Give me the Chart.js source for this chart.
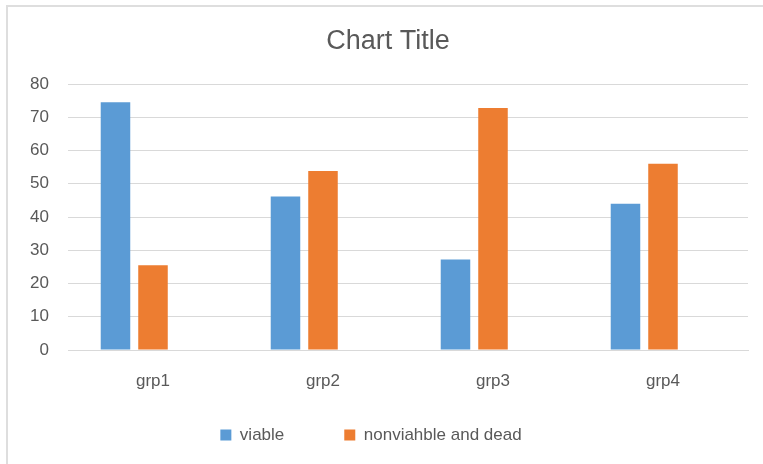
<!DOCTYPE html>
<html>
<head>
<meta charset="utf-8">
<script src="https://cdn.jsdelivr.net/npm/chart.js@4/dist/chart.umd.min.js"></script>
<style>
  html, body { margin: 0; padding: 0; background: #fff; overflow: hidden; }
  #wrap { position: relative; width: 763px; height: 464px; }
  #frame { position: absolute; left: 6px; top: 5px; width: 800px; height: 500px;
           border-top: 2px solid #dedede; border-left: 2px solid #dedede; }
  canvas { position: absolute; left: 0; top: 0; }
</style>
</head>
<body>
<div id="wrap">
  <div id="frame"></div>
  <canvas id="chart1" width="763" height="464"></canvas>
</div>
<script>
// values
const categories = ['grp1', 'grp2', 'grp3', 'grp4'];
const viable = [74.5, 46.2, 27.2, 44.0];
const nonviable = [25.5, 53.8, 72.8, 56.0];
const emptySeries = [null, null, null, null]; // third (blank) series leaves the gap on the right
const yTicks = { min: 0, max: 80, step: 10 };

const textColor = '#595959';
const gridColor = '#d9d9d9';

// the legend's item gap (60px) is also used as its vertical padding,
// so pull the box up a bit and nudge it left like the original.
// title is centred on the whole canvas rather than the padded area
const blockShift = {
    id: 'blockShift',
    afterLayout(chart) {
        const lg = chart.legend;
        lg.left -= 8;
        lg.right -= 8;
        lg.top -= 24.5;
        const tb = chart.titleBlock;
        tb.left += 9;
        tb.right += 9;
    }
};

function createChart(chartID) {
    const ctx = document.getElementById(chartID).getContext('2d');
    new Chart(ctx, {
        type: 'bar',
        data: {
            labels: categories,
            datasets: [
                { label: 'viable', data: viable, backgroundColor: '#5b9bd5' },
                { label: 'nonviahble and dead', data: nonviable, backgroundColor: '#ed7d31' },
                { label: '', data: emptySeries, backgroundColor: '#a5a5a5' }
            ]
        },
        options: {
            responsive: false,
            animation: false,
            categoryPercentage: 0.662,
            barPercentage: 0.787,
            layout: { padding: { left: 10, right: 15, top: 0, bottom: 0 } },
            scales: {
                x: {
                    grid: { display: false, drawTicks: false },
                    border: { color: gridColor, width: 1 },
                    ticks: { color: textColor, font: { family: 'Liberation Sans', size: 17 }, padding: 21 },
                    afterFit: scale => { scale.height = 41; }
                },
                y: {
                    min: yTicks.min,
                    max: yTicks.max,
                    grid: { color: gridColor, lineWidth: 1, drawTicks: false },
                    border: { display: false },
                    ticks: { stepSize: yTicks.step, color: textColor, font: { family: 'Liberation Sans', size: 17 }, padding: 19 },
                    afterFit: scale => { scale.width = 58; }
                }
            },
            plugins: {
                title: {
                    display: true,
                    text: 'Chart Title',
                    color: textColor,
                    font: { family: 'Liberation Sans', size: 27, weight: 'normal' },
                    padding: { top: 25, bottom: 26.6 }
                },
                legend: {
                    position: 'bottom',
                    maxHeight: 73,
                    labels: {
                        color: textColor,
                        font: { family: 'Liberation Sans', size: 17 },
                        boxWidth: 11,
                        boxHeight: 11,
                        padding: 60,
                        filter: item => item.text !== ''
                    }
                },
                tooltip: { enabled: false }
            }
        },
        plugins: [blockShift]
    });
}

createChart('chart1');
</script>
</body>
</html>
